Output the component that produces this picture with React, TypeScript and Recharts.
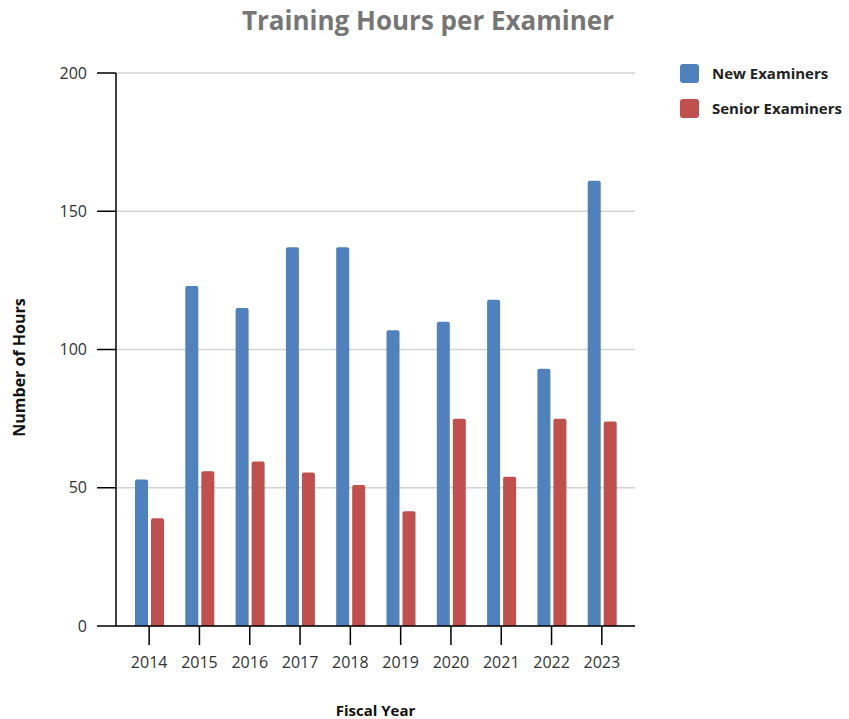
import { Bar, BarChart, CartesianGrid, Legend, XAxis, YAxis } from "recharts";

const years = ["2014", "2015", "2016", "2017", "2018", "2019", "2020", "2021", "2022", "2023"];
const newExaminers = [53, 123, 115, 137, 137, 107, 110, 118, 93, 161];
const seniorExaminers = [39, 56, 59.5, 55.5, 51, 41.5, 75, 54, 75, 74];
const yTicks = [0, 50, 100, 150, 200];

const data = years.map((year, i) => ({
    year,
    newEx: newExaminers[i],
    seniorEx: seniorExaminers[i],
}));

const FONT = "'Open Sans', sans-serif";
const BLUE = "#4f81bd";
const RED = "#c0504d";

const LegendBox = ({ payload }: any) => (
    <div style={{ fontFamily: FONT }}>
        {(payload || []).map((item: any) => (
            <div key={item.value} style={{ display: "flex", alignItems: "center", height: 19, marginBottom: 16 }}>
                <span
                    style={{
                        width: 19,
                        height: 19,
                        borderRadius: 3,
                        background: item.color,
                        display: "inline-block",
                        marginRight: 13,
                    }}
                />
                <span style={{ fontSize: 15, fontWeight: 700, color: "#222", lineHeight: "17px" }}>{item.value}</span>
            </div>
        ))}
    </div>
);

const YTitle = ({ viewBox }: any) => {
    const x = viewBox.x + 19;
    const y = viewBox.y + viewBox.height / 2 + 18;
    return (
        <text
            x={x}
            y={y}
            transform={`rotate(-90 ${x} ${y})`}
            textAnchor="middle"
            dominantBaseline="central"
            fontFamily={FONT}
            fontSize={16}
            fontWeight={700}
            fill="#111"
        >
            Number of Hours
        </text>
    );
};

const XTitle = ({ viewBox }: any) => (
    <text
        x={viewBox.x + viewBox.width / 2}
        y={viewBox.y + viewBox.height - 3}
        textAnchor="middle"
        fontFamily={FONT}
        fontSize={15}
        fontWeight={700}
        fill="#111"
    >
        Fiscal Year
    </text>
);

export default function App() {
    return (
        <div style={{ position: "absolute", left: 0, top: 0, width: 849, height: 719, background: "#fff" }}>
            <div
                style={{
                    position: "absolute",
                    left: 0,
                    top: 2,
                    width: 856,
                    textAlign: "center",
                    fontFamily: FONT,
                    fontSize: 26,
                    fontWeight: 700,
                    color: "#767676",
                }}
            >
                Training Hours per Examiner
            </div>
            <BarChart
                width={849}
                height={719}
                data={data}
                margin={{ top: 73, right: 214, bottom: 0, left: 0 }}
                barSize={13}
                barGap={3}
            >
                <CartesianGrid vertical={false} stroke="#d3d3d3" strokeWidth={1.5} />
                <XAxis
                    dataKey="year"
                    height={93}
                    padding={{ left: 8, right: 8 }}
                    tickSize={19}
                    tickMargin={12}
                    axisLine={{ stroke: "#000", strokeWidth: 1.5 }}
                    tickLine={{ stroke: "#000", strokeWidth: 1.5 }}
                    tick={{ fill: "#333", fontSize: 16, fontFamily: FONT }}
                    label={<XTitle />}
                />
                <YAxis
                    width={116}
                    domain={[0, 200]}
                    ticks={yTicks}
                    tickSize={19}
                    tickMargin={10}
                    axisLine={{ stroke: "#000", strokeWidth: 1.5 }}
                    tickLine={{ stroke: "#000", strokeWidth: 1.5 }}
                    tick={{ fill: "#333", fontSize: 16, fontFamily: FONT }}
                    label={<YTitle />}
                />
                <Legend
                    layout="vertical"
                    align="center"
                    verticalAlign="middle"
                    content={<LegendBox />}
                    wrapperStyle={{ left: 680, top: 64, width: 169, height: 60 }}
                />
                <Bar dataKey="newEx" name="New Examiners" fill={BLUE} radius={[2, 2, 0, 0]} isAnimationActive={false} />
                <Bar dataKey="seniorEx" name="Senior Examiners" fill={RED} radius={[2, 2, 0, 0]} isAnimationActive={false} />
            </BarChart>
        </div>
    );
}
